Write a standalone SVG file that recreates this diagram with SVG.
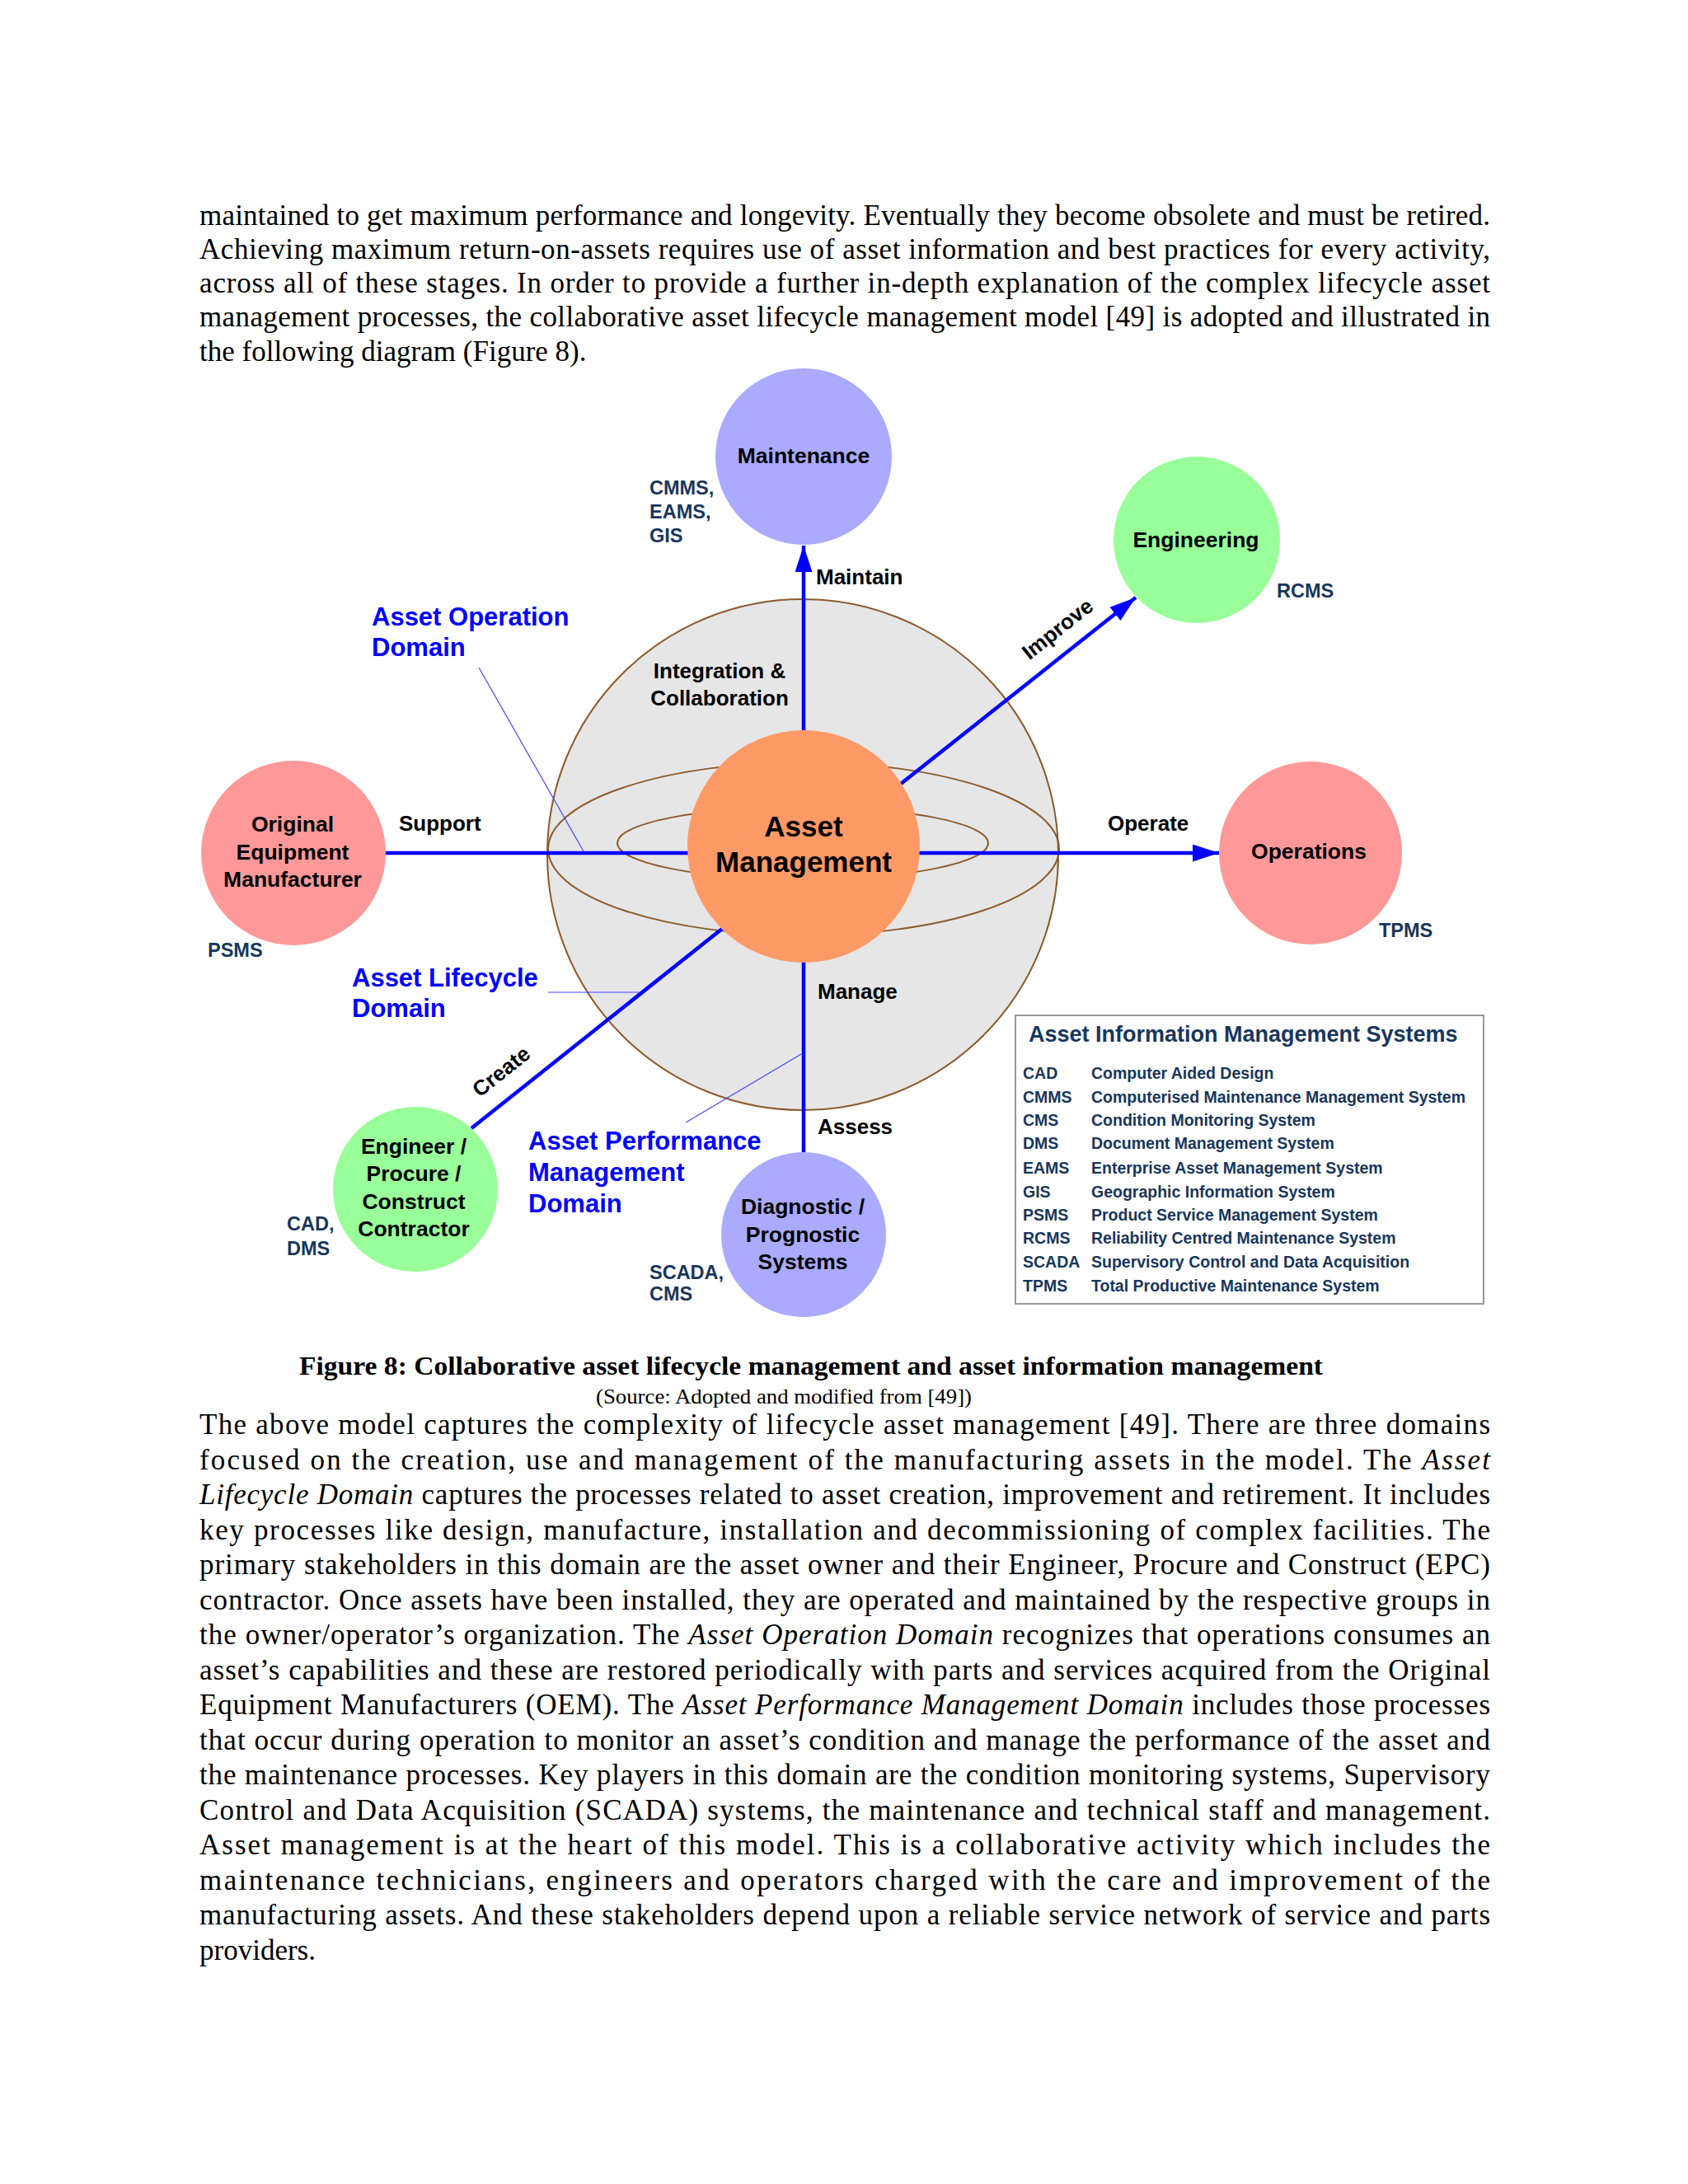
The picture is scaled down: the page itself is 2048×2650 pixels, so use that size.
<svg xmlns="http://www.w3.org/2000/svg" width="2048" height="2650" viewBox="0 0 2048 2650">
<defs>
<style>
.body{font-family:"Liberation Serif","Times New Roman",serif;font-size:35px;fill:#000}
.lbl{font-family:"Liberation Sans",Arial,sans-serif;font-weight:bold;font-size:26px;fill:#000}
.node{font-family:"Liberation Sans",Arial,sans-serif;font-weight:bold;font-size:26.5px;fill:#000;text-anchor:middle}
.big{font-size:35px}
.dom{font-family:"Liberation Sans",Arial,sans-serif;font-weight:bold;font-size:31px;fill:#0000FF}
.sys{font-family:"Liberation Sans",Arial,sans-serif;font-weight:bold;font-size:23.5px;fill:#17365D}
.ttl{font-size:27px}
.leg{font-family:"Liberation Sans",Arial,sans-serif;font-weight:bold;font-size:19.5px;fill:#17365D}
.conn{stroke:#0000FF;stroke-width:4.5;fill:none}
.lead{stroke:#4444FF;stroke-width:1.2;fill:none}
.ring{stroke:#8B5A2B;stroke-width:2;fill:none}
</style>
<marker id="arr" markerUnits="userSpaceOnUse" markerWidth="34" markerHeight="22" refX="32" refY="10.5" orient="auto">
<path d="M0,0 L32,10.5 L0,21 z" fill="#0000FF"/>
</marker>
</defs>
<rect width="2048" height="2650" fill="#FFFFFF"/>

<g id="intro-text" class="body">
<text x="242" y="272.5" textLength="1566" lengthAdjust="spacing">maintained to get maximum performance and longevity. Eventually they become obsolete and must be retired.</text>
<text x="242" y="313.8" textLength="1566" lengthAdjust="spacing">Achieving maximum return-on-assets requires use of asset information and best practices for every activity,</text>
<text x="242" y="355.1" textLength="1566" lengthAdjust="spacing">across all of these stages. In order to provide a further in-depth explanation of the complex lifecycle asset</text>
<text x="242" y="396.4" textLength="1566" lengthAdjust="spacing">management processes, the collaborative asset lifecycle management model [49] is adopted and illustrated in</text>
<text x="242" y="437.7">the following diagram (Figure 8).</text>
</g>

<g id="sphere">
<circle cx="974" cy="1037" r="310" fill="#E6E6E6" stroke="#8B5A2B" stroke-width="2"/>
<ellipse class="ring" cx="975" cy="1030" rx="310" ry="105"/>
<ellipse class="ring" cx="974" cy="1023" rx="225" ry="44"/>
<text class="lbl" x="873" y="823" text-anchor="middle">Integration &amp;</text>
<text class="lbl" x="873" y="856" text-anchor="middle">Collaboration</text>
</g>

<g id="connectors">
<line class="conn" x1="975" y1="890" x2="975" y2="662" marker-end="url(#arr)"/>
<line class="conn" x1="1093" y1="951" x2="1378" y2="725" marker-end="url(#arr)"/>
<line class="conn" x1="1112" y1="1035" x2="1479" y2="1035" marker-end="url(#arr)"/>
<line class="conn" x1="466" y1="1035" x2="838" y2="1035"/>
<line class="conn" x1="876" y1="1127" x2="572" y2="1369"/>
<line class="conn" x1="975" y1="1165" x2="975" y2="1400"/>
<line class="lead" x1="581" y1="810" x2="708" y2="1033"/>
<line class="lead" x1="665" y1="1204" x2="776" y2="1204"/>
<line class="lead" x1="832" y1="1362" x2="972" y2="1279"/>
<text class="lbl" x="990" y="709">Maintain</text>
<text class="lbl" transform="translate(1283,763) rotate(-38.4)" x="0" y="9" text-anchor="middle">Improve</text>
<text class="lbl" x="1344" y="1008">Operate</text>
<text class="lbl" x="484" y="1008">Support</text>
<text class="lbl" transform="translate(608,1300) rotate(-38.5)" x="0" y="9" text-anchor="middle">Create</text>
<text class="lbl" x="992" y="1212">Manage</text>
<text class="lbl" x="992" y="1376">Assess</text>
</g>

<g id="asset-management">
<circle cx="975" cy="1027" r="141" fill="#FF9966"/>
<text class="node big" x="975" y="1015">Asset</text>
<text class="node big" x="975" y="1058">Management</text>
</g>

<g id="maintenance">
<circle cx="975" cy="554" r="107" fill="#AAAAFF"/>
<text class="node" x="975" y="562">Maintenance</text>
<text class="sys" x="788" y="600">CMMS,</text>
<text class="sys" x="788" y="629">EAMS,</text>
<text class="sys" x="788" y="658">GIS</text>
</g>

<g id="engineering">
<circle cx="1452" cy="655" r="101" fill="#99FF99"/>
<text class="node" x="1451" y="664">Engineering</text>
<text class="sys" x="1549" y="725">RCMS</text>
</g>

<g id="operations">
<circle cx="1590" cy="1035" r="111" fill="#FF9999"/>
<text class="node" x="1588" y="1042">Operations</text>
<text class="sys" x="1673" y="1137">TPMS</text>
</g>

<g id="oem">
<circle cx="356" cy="1035" r="112" fill="#FF9999"/>
<text class="node" x="355" y="1009">Original</text>
<text class="node" x="355" y="1043">Equipment</text>
<text class="node" x="355" y="1076">Manufacturer</text>
<text class="sys" x="252" y="1161">PSMS</text>
</g>

<g id="epc">
<circle cx="504" cy="1443" r="100" fill="#99FF99"/>
<text class="node" x="502" y="1400">Engineer /</text>
<text class="node" x="502" y="1433">Procure /</text>
<text class="node" x="502" y="1467">Construct</text>
<text class="node" x="502" y="1500">Contractor</text>
<text class="sys" x="348" y="1493">CAD,</text>
<text class="sys" x="348" y="1523">DMS</text>
</g>

<g id="diagnostic">
<circle cx="975" cy="1498" r="100" fill="#AAAAFF"/>
<text class="node" x="974" y="1473">Diagnostic /</text>
<text class="node" x="974" y="1507">Prognostic</text>
<text class="node" x="974" y="1540">Systems</text>
<text class="sys" x="788" y="1552">SCADA,</text>
<text class="sys" x="788" y="1578">CMS</text>
</g>

<g id="domains">
<text class="dom" x="451" y="759">Asset Operation</text>
<text class="dom" x="451" y="796">Domain</text>
<text class="dom" x="427" y="1197">Asset Lifecycle</text>
<text class="dom" x="427" y="1234">Domain</text>
<text class="dom" x="641" y="1395">Asset Performance</text>
<text class="dom" x="641" y="1433">Management</text>
<text class="dom" x="641" y="1471">Domain</text>
</g>

<g id="legend">
<rect x="1232" y="1232" width="568" height="350" fill="#FFFFFF" stroke="#999999" stroke-width="2"/>
<text class="sys ttl" x="1248" y="1264">Asset Information Management Systems</text>
<g class="leg">
<text x="1241" y="1309">CAD</text><text x="1324" y="1309">Computer Aided Design</text>
<text x="1241" y="1338">CMMS</text><text x="1324" y="1338">Computerised Maintenance Management System</text>
<text x="1241" y="1366">CMS</text><text x="1324" y="1366">Condition Monitoring System</text>
<text x="1241" y="1394">DMS</text><text x="1324" y="1394">Document Management System</text>
<text x="1241" y="1424">EAMS</text><text x="1324" y="1424">Enterprise Asset Management System</text>
<text x="1241" y="1453">GIS</text><text x="1324" y="1453">Geographic Information System</text>
<text x="1241" y="1481">PSMS</text><text x="1324" y="1481">Product Service Management System</text>
<text x="1241" y="1509">RCMS</text><text x="1324" y="1509">Reliability Centred Maintenance System</text>
<text x="1241" y="1538">SCADA</text><text x="1324" y="1538">Supervisory Control and Data Acquisition</text>
<text x="1241" y="1567">TPMS</text><text x="1324" y="1567">Total Productive Maintenance System</text>
</g>
</g>

<g id="caption">
<text x="984" y="1668" text-anchor="middle" font-family="'Liberation Serif','Times New Roman',serif" font-weight="bold" font-size="31" textLength="1242" lengthAdjust="spacingAndGlyphs">Figure 8: Collaborative asset lifecycle management and asset information management</text>
<text x="951" y="1703" text-anchor="middle" font-family="'Liberation Serif','Times New Roman',serif" font-size="26" textLength="456" lengthAdjust="spacingAndGlyphs">(Source: Adopted and modified from [49])</text>
</g>

<g id="body-text" class="body">
<text x="242" y="1740" textLength="1566" lengthAdjust="spacing">The above model captures the complexity of lifecycle asset management [49]. There are three domains</text>
<text x="242" y="1782.5" textLength="1566" lengthAdjust="spacing">focused on the creation, use and management of the manufacturing assets in the model. The <tspan font-style="italic">Asset</tspan></text>
<text x="242" y="1825" textLength="1566" lengthAdjust="spacing"><tspan font-style="italic">Lifecycle Domain</tspan> captures the processes related to asset creation, improvement and retirement. It includes</text>
<text x="242" y="1867.5" textLength="1566" lengthAdjust="spacing">key processes like design, manufacture, installation and decommissioning of complex facilities. The</text>
<text x="242" y="1910" textLength="1566" lengthAdjust="spacing">primary stakeholders in this domain are the asset owner and their Engineer, Procure and Construct (EPC)</text>
<text x="242" y="1952.5" textLength="1566" lengthAdjust="spacing">contractor. Once assets have been installed, they are operated and maintained by the respective groups in</text>
<text x="242" y="1995" textLength="1566" lengthAdjust="spacing">the owner/operator’s organization. The <tspan font-style="italic">Asset Operation Domain</tspan> recognizes that operations consumes an</text>
<text x="242" y="2037.5" textLength="1566" lengthAdjust="spacing">asset’s capabilities and these are restored periodically with parts and services acquired from the Original</text>
<text x="242" y="2080" textLength="1566" lengthAdjust="spacing">Equipment Manufacturers (OEM). The <tspan font-style="italic">Asset Performance Management Domain</tspan> includes those processes</text>
<text x="242" y="2122.5" textLength="1566" lengthAdjust="spacing">that occur during operation to monitor an asset’s condition and manage the performance of the asset and</text>
<text x="242" y="2165" textLength="1566" lengthAdjust="spacing">the maintenance processes. Key players in this domain are the condition monitoring systems, Supervisory</text>
<text x="242" y="2207.5" textLength="1566" lengthAdjust="spacing">Control and Data Acquisition (SCADA) systems, the maintenance and technical staff and management.</text>
<text x="242" y="2250" textLength="1566" lengthAdjust="spacing">Asset management is at the heart of this model. This is a collaborative activity which includes the</text>
<text x="242" y="2292.5" textLength="1566" lengthAdjust="spacing">maintenance technicians, engineers and operators charged with the care and improvement of the</text>
<text x="242" y="2335" textLength="1566" lengthAdjust="spacing">manufacturing assets. And these stakeholders depend upon a reliable service network of service and parts</text>
<text x="242" y="2377.5">providers.</text>
</g>
</svg>
